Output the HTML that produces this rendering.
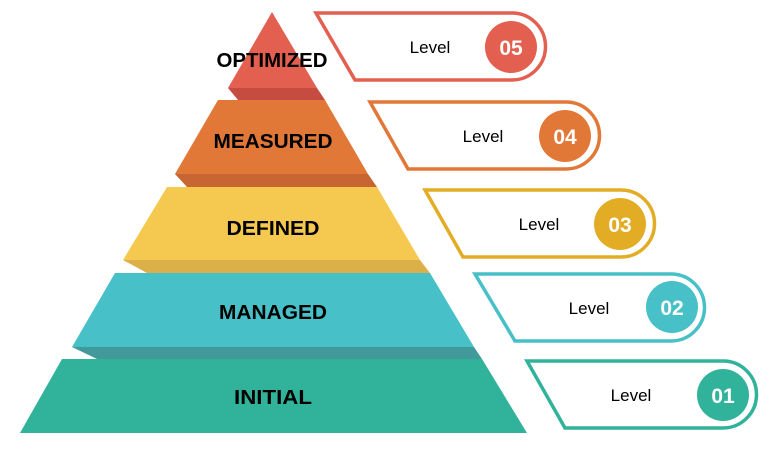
<!DOCTYPE html>
<html><head><meta charset="utf-8"><style>
html,body{margin:0;padding:0;background:#fff;}
svg{display:block;}
.lab{font-family:"Liberation Sans",sans-serif;font-weight:bold;font-size:20px;fill:#000;}
.lv{font-family:"Liberation Sans",sans-serif;font-size:17px;fill:#000;}
.num{font-family:"Liberation Sans",sans-serif;font-weight:bold;font-size:21px;fill:#fff;}
</style></head><body>
<svg width="782" height="449" viewBox="0 0 782 449" xmlns="http://www.w3.org/2000/svg">
<!-- pyramid -->
<polygon points="20,433 62,359 482,359 527,433" fill="#31b29b"/>
<polygon points="72,347 474,347 482,359 97,359" fill="#419a99"/>
<polygon points="72,347 115,273 430,273 474,347" fill="#48c0c7"/>
<polygon points="123,260 420,260 430,273 147,273" fill="#dcb048"/>
<polygon points="123,260 167,187 377,187 420,260" fill="#f5c84f"/>
<polygon points="175,174 368,174 377,187 187,187" fill="#c76632"/>
<polygon points="175,174 218,100 325,100 368,174" fill="#e27838"/>
<polygon points="228,88 317,88 325,100 238,100" fill="#c64c42"/>
<polygon points="228,88 272,12 317,88" fill="#e35f4f"/>
<text class="lab" x="272" y="67" text-anchor="middle" textLength="111" lengthAdjust="spacingAndGlyphs">OPTIMIZED</text>
<text class="lab" x="273" y="148" text-anchor="middle" textLength="119" lengthAdjust="spacingAndGlyphs">MEASURED</text>
<text class="lab" x="273" y="235" text-anchor="middle" textLength="93" lengthAdjust="spacingAndGlyphs">DEFINED</text>
<text class="lab" x="273" y="319" text-anchor="middle" textLength="108" lengthAdjust="spacingAndGlyphs">MANAGED</text>
<text class="lab" x="273" y="404" text-anchor="middle" textLength="78" lengthAdjust="spacingAndGlyphs">INITIAL</text>
<!-- boxes -->
<g fill="#fff" stroke-width="3.5">
<path d="M316,13 H512 A33.5,33.5 0 0 1 512,80 H355 Z" stroke="#e35f4f"/>
<path d="M370,102 H566 A33.5,33.5 0 0 1 566,169 H408 Z" stroke="#e27838"/>
<path d="M425,190 H621 A33.5,33.5 0 0 1 621,257 H463 Z" stroke="#e2ad25"/>
<path d="M475,274 H671 A33.5,33.5 0 0 1 671,341 H515 Z" stroke="#48c0c7"/>
<path d="M527,361 H723 A33.5,33.5 0 0 1 723,428 H565 Z" stroke="#31b29b"/>
</g>
<circle cx="511" cy="47" r="26" fill="#e35f4f"/>
<circle cx="565" cy="136" r="26" fill="#e27838"/>
<circle cx="620" cy="224" r="26" fill="#e2ad25"/>
<circle cx="672" cy="307" r="26" fill="#48c0c7"/>
<circle cx="723" cy="395" r="26" fill="#31b29b"/>
<g text-anchor="middle">
<text class="lv" x="430" y="53">Level</text>
<text class="lv" x="483" y="142">Level</text>
<text class="lv" x="539" y="230">Level</text>
<text class="lv" x="589" y="314">Level</text>
<text class="lv" x="631" y="401">Level</text>
<text class="num" x="511" y="55">05</text>
<text class="num" x="565" y="144">04</text>
<text class="num" x="620" y="232">03</text>
<text class="num" x="672" y="315">02</text>
<text class="num" x="723" y="403">01</text>
</g>
</svg>
</body></html>
